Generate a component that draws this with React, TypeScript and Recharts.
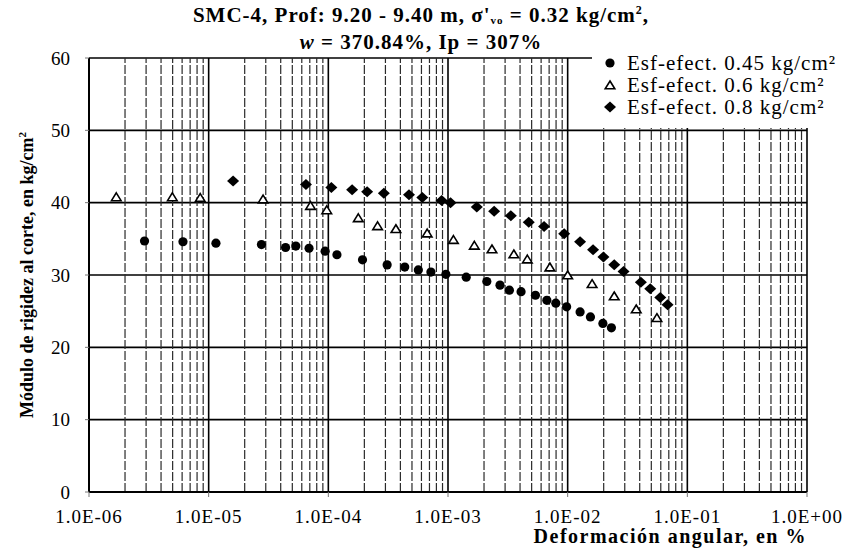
import React from "react";
import { CartesianGrid, ReferenceLine, Scatter, ScatterChart, XAxis, YAxis } from "recharts";

// Esf-efect. 0.45 kg/cm²
const circleX = [
  2.91e-6, 6.1e-6, 1.15e-5, 2.76e-5, 4.39e-5, 5.35e-5, 6.9e-5, 9.4e-5, 1.18e-4, 1.93e-4, 3.1e-4, 4.35e-4, 5.65e-4,
  7.2e-4, 9.6e-4, 1.42e-3, 2.11e-3, 2.72e-3, 3.26e-3, 4.08e-3, 5.38e-3, 6.7e-3, 7.96e-3, 9.8e-3, 1.27e-2, 1.55e-2,
  1.97e-2, 2.32e-2,
];
const circleY = [
  34.7, 34.6, 34.4, 34.2, 33.8, 34.0, 33.7, 33.3, 32.8, 32.1, 31.4, 31.1, 30.7, 30.4, 30.1, 29.7, 29.1, 28.6, 27.9,
  27.7, 27.2, 26.5, 26.1, 25.6, 24.9, 24.2, 23.3, 22.7,
];

// Esf-efect. 0.6 kg/cm²
const triangleX = [
  1.69e-6, 4.97e-6, 8.5e-6, 2.85e-5, 7.1e-5, 9.7e-5, 1.78e-4, 2.58e-4, 3.67e-4, 6.7e-4, 1.11e-3, 1.66e-3, 2.33e-3,
  3.55e-3, 4.6e-3, 7.1e-3, 1.0e-2, 1.6e-2, 2.45e-2, 3.74e-2, 5.57e-2,
];
const triangleY = [
  40.8, 40.8, 40.7, 40.5, 39.6, 39.0, 37.9, 36.8, 36.4, 35.8, 34.9, 34.1, 33.6, 32.9, 32.2, 31.1, 30.0, 28.8, 27.1,
  25.3, 24.1,
];

// Esf-efect. 0.8 kg/cm²
const diamondX = [
  1.6e-5, 6.5e-5, 1.06e-4, 1.58e-4, 2.11e-4, 2.91e-4, 4.72e-4, 6.1e-4, 8.85e-4, 1.05e-3, 1.74e-3, 2.43e-3, 3.35e-3,
  4.73e-3, 6.35e-3, 9.35e-3, 1.27e-2, 1.63e-2, 1.99e-2, 2.45e-2, 2.93e-2, 4.09e-2, 4.9e-2, 5.94e-2, 6.84e-2,
];
const diamondY = [
  43.0, 42.5, 42.1, 41.8, 41.5, 41.3, 41.1, 40.7, 40.3, 40.0, 39.4, 38.8, 38.2, 37.3, 36.7, 35.7, 34.6, 33.5, 32.5,
  31.4, 30.5, 29.0, 28.1, 26.9, 25.9,
];

const xTicks = [1e-6, 1e-5, 1e-4, 1e-3, 1e-2, 1e-1, 1];
const xTickLabels = ["1.0E-06", "1.0E-05", "1.0E-04", "1.0E-03", "1.0E-02", "1.0E-01", "1.0E+00"];
const yTicks = [0, 10, 20, 30, 40, 50, 60];
const seriesNames = ["Esf-efect. 0.45 kg/cm²", "Esf-efect. 0.6 kg/cm²", "Esf-efect. 0.8 kg/cm²"];

// líneas secundarias de la rejilla logarítmica (2..9 de cada década)
const xMinor: number[] = [];
xTicks.slice(0, -1).forEach((d) => {
  for (let k = 2; k <= 9; k++) xMinor.push(d * k);
});

const zip = (xs: number[], ys: number[]) => xs.map((x, i) => ({ x, y: ys[i] }));
const circleData = zip(circleX, circleY);
const triangleData = zip(triangleX, triangleY);
const diamondData = zip(diamondX, diamondY);

const FONT = "'Liberation Serif', 'Times New Roman', serif";

function Circle({ cx, cy }: { cx?: number; cy?: number }) {
  if (cx === undefined || cy === undefined) return null;
  return <circle cx={cx} cy={cy} r={4.6} fill="#000" />;
}

function Triangle({ cx, cy }: { cx?: number; cy?: number }) {
  if (cx === undefined || cy === undefined) return null;
  return (
    <polygon
      points={`${cx},${cy - 4} ${cx + 4.8},${cy + 3.8} ${cx - 4.8},${cy + 3.8}`}
      fill="#fff"
      stroke="#000"
      strokeWidth={1.6}
    />
  );
}

function Diamond({ cx, cy }: { cx?: number; cy?: number }) {
  if (cx === undefined || cy === undefined) return null;
  return <polygon points={`${cx},${cy - 5.5} ${cx + 6},${cy} ${cx},${cy + 5.5} ${cx - 6},${cy}`} fill="#000" />;
}

function XTick({ x, y, index }: { x?: number; y?: number; index?: number }) {
  return (
    <text x={x} y={y} dy={24} textAnchor="middle" fill="#000" fontSize={19} letterSpacing={1} fontFamily={FONT}>
      {xTickLabels[index ?? 0]}
    </text>
  );
}

export default function App() {
  return (
    <div style={{ position: "relative", width: 849, height: 553, background: "#fff", fontFamily: FONT }}>
      <style>{"body{margin:0}"}</style>

      <div
        style={{
          position: "absolute",
          top: 2,
          left: 0,
          width: 842,
          textAlign: "center",
          fontWeight: "bold",
          fontSize: 21,
          letterSpacing: 1,
          lineHeight: "27px",
          color: "#000",
        }}
      >
        <div>
          SMC-4, Prof: 9.20 - 9.40 m, σ'<sub style={{ fontSize: 11, verticalAlign: "-2px", lineHeight: 0 }}>vo</sub> = 0.32
          kg/cm<sup style={{ fontSize: 12, lineHeight: 0 }}>2</sup>,
        </div>
        <div>
          <i>w</i> = 370.84%, Ip = 307%
        </div>
      </div>

      <ScatterChart width={849} height={553} margin={{ top: 58, right: 42, bottom: 0, left: 0 }} style={{ position: "absolute", top: 0, left: 0 }}>
        <CartesianGrid stroke="#000" strokeWidth={1.6} />
        {xMinor.map((v) => (
          <ReferenceLine key={v} x={v} stroke="#2a2a2a" strokeWidth={1.2} strokeDasharray="9 2" />
        ))}
        <XAxis
          dataKey="x"
          type="number"
          scale="log"
          domain={[1e-6, 1]}
          ticks={xTicks}
          allowDataOverflow
          height={61}
          tickSize={5}
          tickLine={{ stroke: "#777" }}
          axisLine={{ stroke: "#000", strokeWidth: 2 }}
          tick={<XTick />}
          interval={0}
        />
        <YAxis
          dataKey="y"
          type="number"
          domain={[0, 60]}
          ticks={yTicks}
          width={89}
          tickSize={4}
          tickMargin={15}
          tickLine={{ stroke: "#777" }}
          axisLine={{ stroke: "#000", strokeWidth: 2 }}
          tick={{ fill: "#000", fontSize: 19, fontFamily: FONT }}
          interval={0}
        />
        <Scatter name={seriesNames[0]} data={circleData} shape={<Circle />} isAnimationActive={false} />
        <Scatter name={seriesNames[1]} data={triangleData} shape={<Triangle />} isAnimationActive={false} />
        <Scatter name={seriesNames[2]} data={diamondData} shape={<Diamond />} isAnimationActive={false} />
      </ScatterChart>

      {/* leyenda con fondo blanco, tapa la esquina superior derecha */}
      <div
        style={{
          position: "absolute",
          left: 592,
          top: 54,
          width: 257,
          height: 74,
          background: "#fff",
          fontSize: 21,
          letterSpacing: 1,
          color: "#000",
        }}
      >
        {seriesNames.map((name, i) => (
          <div key={name} style={{ position: "absolute", left: 0, top: i * 22 - 3, height: 24, display: "flex", alignItems: "center" }}>
            <svg width={35} height={24} style={{ display: "block" }}>
              {i === 0 && <Circle cx={18} cy={12} />}
              {i === 1 && <Triangle cx={18} cy={12} />}
              {i === 2 && <Diamond cx={18} cy={12} />}
            </svg>
            <span style={{ whiteSpace: "nowrap", lineHeight: "24px" }}>{name}</span>
          </div>
        ))}
      </div>

      <div
        style={{
          position: "absolute",
          left: 27,
          top: 275,
          transform: "translate(-50%, -50%) rotate(-90deg)",
          whiteSpace: "nowrap",
          fontWeight: "bold",
          fontSize: 18,
          color: "#000",
        }}
      >
        Módulo de rigidez al corte, en kg/cm<sup style={{ fontSize: 11, lineHeight: 0 }}>2</sup>
      </div>

      <div
        style={{
          position: "absolute",
          right: 42,
          top: 523,
          whiteSpace: "nowrap",
          fontWeight: "bold",
          fontSize: 20,
          lineHeight: "27px",
          letterSpacing: 1.5,
          color: "#000",
        }}
      >
        Deformación angular, en %
      </div>
    </div>
  );
}
